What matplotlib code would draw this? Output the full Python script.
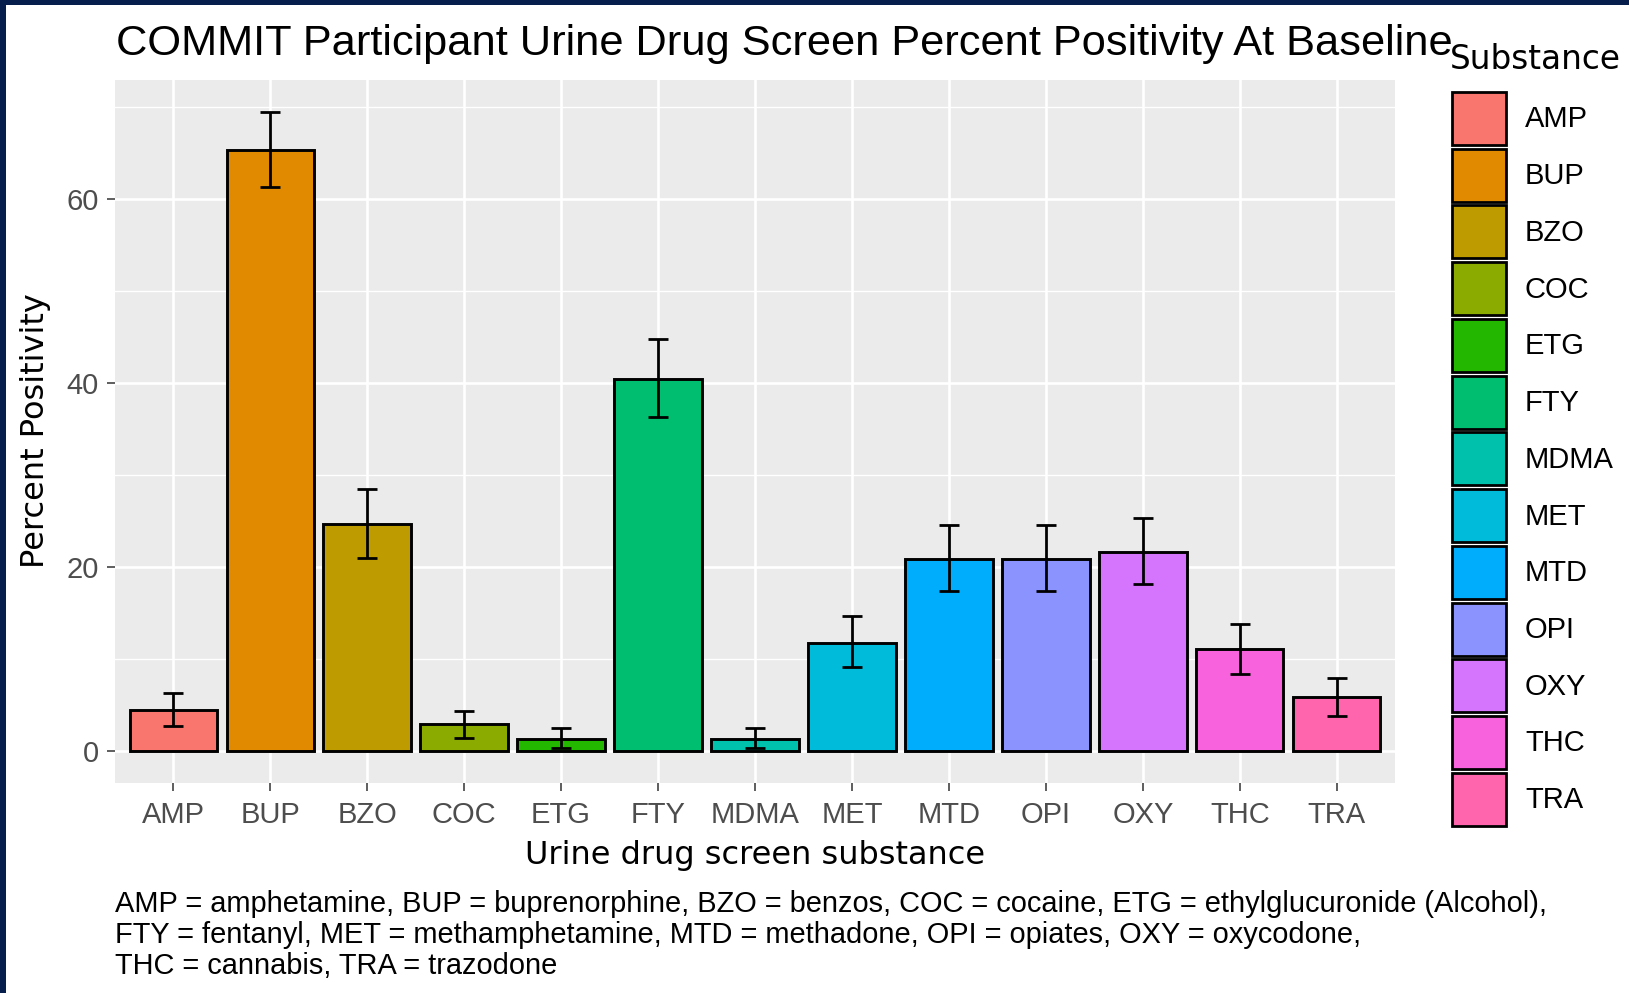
import matplotlib
matplotlib.use("Agg")
import matplotlib.pyplot as plt
from matplotlib.patches import Patch, Rectangle
import numpy as np

plt.rcParams['font.family'] = ['Liberation Sans', 'DejaVu Sans']
WIDE = ['DejaVu Sans']

# Baseline urine drug screen positivity (%) with 95% CI
substances = ["AMP", "BUP", "BZO", "COC", "ETG", "FTY", "MDMA",
              "MET", "MTD", "OPI", "OXY", "THC", "TRA"]
percent = [4.5, 65.4, 24.7, 2.9, 1.35, 40.5, 1.35, 11.8, 20.9, 20.9, 21.7, 11.1, 5.85]
ci_low = [2.7, 61.3, 21.0, 1.45, 0.35, 36.3, 0.35, 9.1, 17.4, 17.4, 18.2, 8.4, 3.85]
ci_high = [6.3, 69.5, 28.5, 4.4, 2.5, 44.8, 2.5, 14.7, 24.6, 24.6, 25.3, 13.85, 7.9]
colors = ["#F8766D", "#E18A00", "#BE9C00", "#8CAB00", "#24B700", "#00BE70", "#00C1AB",
          "#00BBDA", "#00ACFC", "#8B93FF", "#D575FE", "#F962DD", "#FF65AC"]
y_ticks = [0, 20, 40, 60]
y_minor = [10, 30, 50, 70]

title = "COMMIT Participant Urine Drug Screen Percent Positivity At Baseline"
x_title = "Urine drug screen substance"
y_title = "Percent Positivity"
legend_title = "Substance"
caption_lines = [
    "AMP = amphetamine, BUP = buprenorphine, BZO = benzos, COC = cocaine, ETG = ethylglucuronide (Alcohol),",
    "FTY = fentanyl, MET = methamphetamine, MTD = methadone, OPI = opiates, OXY = oxycodone,",
    "THC = cannabis, TRA = trazodone",
]

W, H = 1629, 993
fig = plt.figure(figsize=(W / 100, H / 100), dpi=100)


def fx(px):
    return px / W


def fy(py):
    return 1 - py / H


# navy frame on the left and top edges
fig.patches.append(Rectangle((0, 0), fx(6), 1, transform=fig.transFigure,
                             facecolor='#061E4B', edgecolor='none', zorder=0))
fig.patches.append(Rectangle((0, fy(5)), 1, 1 - fy(5), transform=fig.transFigure,
                             facecolor='#061E4B', edgecolor='none', zorder=0))

ax = fig.add_axes([fx(115), fy(783), fx(1395) - fx(115), fy(80) - fy(783)])
ax.set_facecolor('#EBEBEB')

x = np.arange(1, len(substances) + 1)
ax.bar(x, percent, width=0.9, color=colors, edgecolor='black', linewidth=2.1, zorder=3)
ax.vlines(x, ci_low, ci_high, color='black', linewidth=2.0, zorder=4)
ax.hlines(ci_low, x - 0.1, x + 0.1, color='black', linewidth=2.0, zorder=4)
ax.hlines(ci_high, x - 0.1, x + 0.1, color='black', linewidth=2.0, zorder=4)

span = max(ci_high) - 0
ax.set_ylim(0 - 0.05 * span, max(ci_high) + 0.05 * span)
ax.set_xlim(0.4, len(substances) + 0.6)

ax.set_xticks(x)
ax.set_xticklabels(substances)
ax.set_yticks(y_ticks)
ax.set_yticks(y_minor, minor=True)
ax.set_axisbelow(True)
ax.grid(which='major', color='white', linewidth=1.9)
ax.grid(which='minor', axis='y', color='white', linewidth=0.95)
for s in ax.spines.values():
    s.set_visible(False)
ax.tick_params(axis='both', which='major', length=5.8, width=1.1, color='#333333',
               labelcolor='#4D4D4D', labelsize=21)
ax.tick_params(axis='y', which='major', pad=6.0)
ax.tick_params(axis='x', which='major', pad=7.0)
ax.tick_params(which='minor', length=0)

fig.text(fx(116), fy(55), title, fontsize=31.2, va='baseline', ha='left', color='black')
fig.text(fx(755), fy(864), x_title, fontsize=23, family=WIDE,
         va='baseline', ha='center', color='black')
fig.text(fx(44), fy(431), y_title, fontsize=23, family=WIDE, va='baseline', ha='center',
         rotation=90, rotation_mode='anchor', color='black')

handles = [Patch(facecolor=c, edgecolor='black', linewidth=2.0) for c in colors]
fig.legend(handles, substances, loc='upper left', bbox_to_anchor=(fx(1452), fy(92)),
           frameon=False, fontsize=21, handlelength=1.85, handleheight=2.42,
           labelspacing=0.127, handletextpad=0.65, borderpad=0, borderaxespad=0)
fig.text(fx(1450), fy(69), legend_title, fontsize=23.6, family=WIDE, va='baseline', ha='left')

for i, line in enumerate(caption_lines):
    fig.text(fx(115), fy(912 + 31 * i), line, fontsize=20.9, va='baseline', ha='left')

fig.savefig('out.png', dpi=100, facecolor='white')
